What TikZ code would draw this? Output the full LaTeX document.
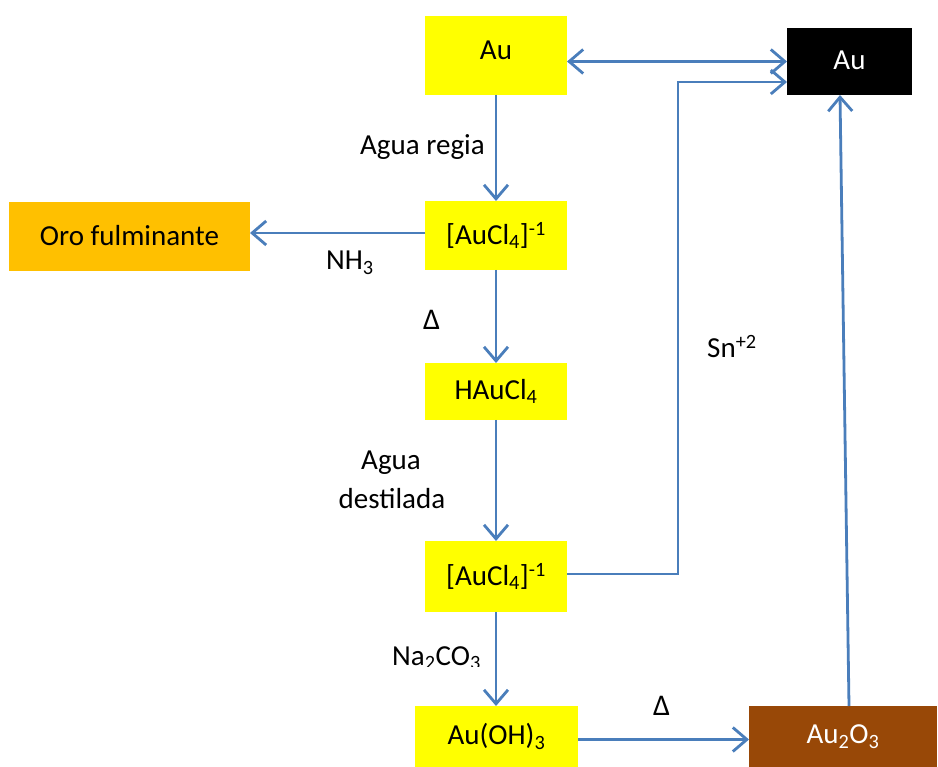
\documentclass[tikz,border=0pt]{standalone}
\usepackage{fontspec}
\setmainfont{Carlito}
\usetikzlibrary{arrows.meta}
\definecolor{flow}{HTML}{4A7EBB}
\definecolor{gold}{HTML}{FFFF00}
\definecolor{amber}{HTML}{FFC000}
\definecolor{rust}{HTML}{984807}
\newcommand\mainfs{\fontsize{29}{35}\selectfont}
\newcommand\deltafs{\fontsize{30}{35}\selectfont}
\begin{document}
\begin{tikzpicture}[x=1pt,y=-1pt,
  box/.style={anchor=north west,inner sep=0pt,outer sep=0pt,font=\mainfs,text=black},
  lbl/.style={anchor=base west,inner sep=0pt,font=\mainfs},
  flowline/.style={draw=flow,line width=2.8pt},
  >={Straight Barb[length=14pt,width=24pt,line width=2.8pt]}]
\useasboundingbox (0,0) rectangle (938,767);

% reaction boxes
\node[box,fill=gold,minimum width=142pt,minimum height=79pt] (au1) at (425,16) {\raisebox{10pt}{Au}};
\node[box,fill=black,text=white,minimum width=125pt,minimum height=67pt] (aub) at (787,28) {\raisebox{3pt}{Au}};
\node[box,fill=gold,minimum width=142pt,minimum height=69pt] (aucl1) at (425,201) {\raisebox{3pt}{[AuCl\textsubscript{4}]\textsuperscript{-1}}};
\node[box,fill=amber,minimum width=241pt,minimum height=69pt] (oro) at (9,202) {\raisebox{3pt}{Oro fulminante}};
\node[box,fill=gold,minimum width=142pt,minimum height=57pt] (hau) at (425,363) {HAuCl\textsubscript{4}};
\node[box,fill=gold,minimum width=142pt,minimum height=71pt] (aucl2) at (425,541) {\raisebox{3pt}{[AuCl\textsubscript{4}]\textsuperscript{-1}}};
\node[box,fill=gold,minimum width=163pt,minimum height=61pt] (auoh) at (415,706) {Au(OH)\textsubscript{3}};
\node[box,fill=rust,text=white,minimum width=188pt,minimum height=61pt] (auox) at (749,706) {Au\textsubscript{2}O\textsubscript{3}};

% reagent labels
\node[lbl] (lregia) at (360,155) {Agua regia};
\node[lbl] (lnh) at (326,270) {NH\textsubscript{3}};
\node[lbl,font=\deltafs] (ld1) at (423,330) {Δ};
\node[lbl] (lsn) at (707,358) {Sn\textsuperscript{+2}};
\node[lbl,anchor=base] (lagua) at (391,470) {Agua};
\node[lbl,anchor=base] (ldest) at (392,508) {destilada};
\begin{scope}
  \clip (380,630) rectangle (500,666);
  \node[lbl] (lna) at (392,665) {Na\textsubscript{2}CO\textsubscript{3}};
\end{scope}
\node[lbl,font=\deltafs] (ld2) at (653,715) {Δ};

% connectors
\draw[flowline,<->] (au1.east |- aub.west) -- (aub.west);
\draw[flowline,->] (au1.south) -- (aucl1.north);
\draw[flowline,->] ([yshift=2.5pt]aucl1.west) -- ([yshift=2.5pt]aucl1.west -| oro.east);
\draw[flowline,->] (aucl1.south) -- (hau.north);
\draw[flowline,->] (hau.south) -- (aucl2.north);
\draw[flowline,->] ([yshift=2.5pt]aucl2.east) -- ++(111,0) |- ([yshift=13pt]aub.south west);
\draw[flowline,->] (aucl2.south) -- (auoh.north -| aucl2.south);
\draw[flowline,->] ([yshift=-3pt]auoh.east) -- ([yshift=-3pt]auox.west);
\draw[flowline,->] ([xshift=6pt]auox.north) -- ([xshift=-9.5pt]aub.south);
\end{tikzpicture}
\end{document}
